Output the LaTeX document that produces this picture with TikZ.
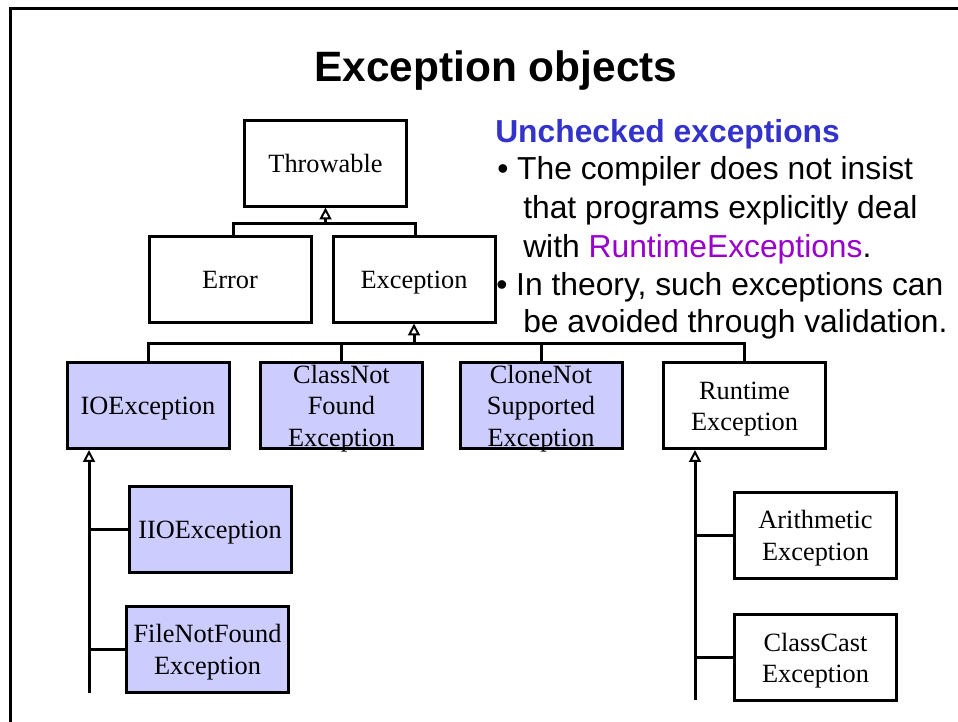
\documentclass[tikz,border=0pt]{standalone}
\usepackage{fontspec}
\setmainfont{Liberation Serif}
\newfontfamily\arialfont{Liberation Sans}
\usetikzlibrary{arrows.meta}
\definecolor{boxblue}{RGB}{204,204,255}
\definecolor{headblue}{RGB}{51,51,204}
\definecolor{rtpurple}{RGB}{153,0,204}
\def\px{0.75157pt}
% strut that puts the middle of the baselines 7.1pt below the node centre
\newcommand\bxs{\rule[-4.65pt]{0pt}{23.5pt}}
\tikzset{
  classbox/.style={draw, line width=3*\px, inner sep=0pt,
    minimum width=162*\px, minimum height=86*\px},
  filled/.style={classbox, fill=boxblue},
  boxtext/.style={inner sep=0pt, align=center,
    font=\fontsize{19.8}{23.5}\selectfont},
  link/.style={line width=3*\px},
  inherit/.style={link, -{Triangle[open, length=9pt, width=9pt, line width=1.5pt]}},
  bodytext/.style={anchor=base west, inner sep=0pt,
    font=\arialfont\fontsize{23.9}{28}\selectfont}
}
\begin{document}
\begin{tikzpicture}[x=\px, y=-\px]
\useasboundingbox (0,0) rectangle (958,722);
\clip (0,0) rectangle (958,722);
\fill[white] (0,0) rectangle (958,722);
% slide frame
\draw[line width=3*\px] (10.5,760) -- (10.5,8) -- (990,8);

% title
\node[anchor=base, inner sep=0pt, font=\arialfont\bfseries\fontsize{31.9}{36}\selectfont]
  (title) at (496,81) {Exception objects};

% class boxes
\node[classbox] (throwable) at (325.5,163) {};
\node[classbox] (error) at (230,279) {};
\node[classbox] (exception) at (414,279) {};
\node[filled] (ioex) at (148,405.5) {};
\node[filled] (cnfex) at (341.5,405.5) {};
\node[filled] (cnsex) at (541,405.5) {};
\node[classbox] (rtex) at (744.5,405.5) {};
\node[filled] (iioex) at (210,529) {};
\node[filled] (fnfex) at (207.5,649) {};
\node[classbox] (arex) at (815.5,535) {};
\node[classbox] (ccex) at (815.5,657.5) {};

% class names
\node[boxtext] (throwable-t) at (throwable) {\bxs Throwable};
\node[boxtext] (error-t) at (error) {\bxs Error};
\node[boxtext] (exception-t) at (exception) {\bxs Exception};
\node[boxtext] (ioex-t) at (ioex) {\bxs IOException};
\node[boxtext] (cnfex-t) at (cnfex) {\bxs ClassNot\\\bxs Found\\\bxs Exception};
\node[boxtext] (cnsex-t) at (cnsex) {\bxs CloneNot\\\bxs Supported\\\bxs Exception};
\node[boxtext] (rtex-t) at (rtex) {\bxs Runtime\\\bxs Exception};
\node[boxtext] (iioex-t) at (iioex) {\bxs IIOException};
\node[boxtext] (fnfex-t) at (fnfex) {\bxs FileNotFound\\\bxs Exception};
\node[boxtext] (arex-t) at (arex) {\bxs Arithmetic\\\bxs Exception};
\node[boxtext] (ccex-t) at (ccex) {\bxs ClassCast\\\bxs Exception};

% Throwable subclasses
\coordinate (busA) at (325.5,223);
\draw[link] ([xshift=3*\px]error.north) |- (busA) -| ([xshift=1*\px]exception.north);
\draw[inherit] (busA) -- (throwable.south);

% Exception subclasses
\coordinate (busB) at (414,343);
\draw[link] (ioex.north) |- (busB) -| (rtex.north);
\draw[link] (cnfex.north) -- (cnfex.north |- busB);
\draw[link] (cnsex.north) -- (cnsex.north |- busB);
\draw[inherit] (busB) -- (exception.south);

% IOException subclasses
\coordinate (ioend) at (89,693);
\draw[inherit] (ioend) -- (ioend |- ioex.south);
\draw[link] (iioex.west) -- (iioex.west -| ioend);
\draw[link] (fnfex.west) -- (fnfex.west -| ioend);

% RuntimeException subclasses
\coordinate (rtend) at (695,700);
\draw[inherit] (rtend) -- (rtend |- rtex.south);
\draw[link] (arex.west) -- (arex.west -| rtend);
\draw[link] (ccex.west) -- (ccex.west -| rtend);

% notes on unchecked exceptions
\node[bodytext, text=headblue, font=\arialfont\bfseries\fontsize{23.9}{28}\selectfont]
  (head) at (495,142) {Unchecked exceptions};
\node[bodytext] (l1) at (497,179) {\textbullet\ The compiler does not insist};
\node[bodytext] (l2) at (523,218) {that programs explicitly deal};
\node[bodytext] (l3) at (523,257) {with \textcolor{rtpurple}{RuntimeExceptions}.};
\node[bodytext] (l4) at (496,295) {\textbullet\ In theory, such exceptions can};
\node[bodytext] (l5) at (523,332) {be avoided through validation.};
\end{tikzpicture}
\end{document}
